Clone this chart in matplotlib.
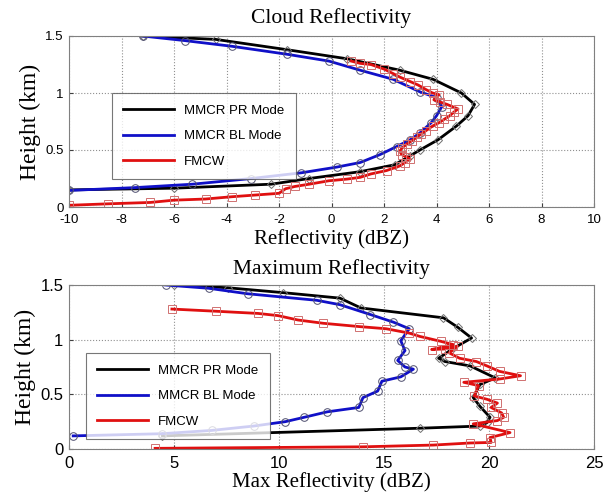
import numpy as np
import matplotlib
matplotlib.use("Agg")
import matplotlib.pyplot as plt

# --- Cloud Reflectivity (dBZ, km) ---
pr_top_x = [-7.2, -4.4, -1.7, 0.6, 2.6, 3.87, 4.95, 5.45, 5.2, 4.76, 4.06, 3.37, 3.0, 2.4, 1.1, -0.85, -2.3, -6.0, -10.0]
pr_top_y = [1.5, 1.47, 1.38, 1.30, 1.2, 1.12, 1.0, 0.9, 0.8, 0.71, 0.59, 0.5, 0.45, 0.37, 0.31, 0.25, 0.20, 0.165, 0.15]

bl_top_x = [-7.2, -5.6, -3.8, -1.7, -0.1, 1.09, 2.35, 3.37, 4.0, 4.2, 4.0, 3.8, 3.37, 3.0, 2.48, 1.85, 1.09, 0.2, -1.15, -3.05, -5.3, -7.5, -10.0]
bl_top_y = [1.5, 1.46, 1.41, 1.34, 1.28, 1.2, 1.12, 1.01, 0.96, 0.88, 0.8, 0.74, 0.65, 0.59, 0.53, 0.46, 0.39, 0.35, 0.30, 0.25, 0.2, 0.17, 0.145]

fm_top_x = [0.75, 1.09, 1.5, 2.0, 2.35, 2.6, 3.0, 3.3, 3.6, 3.85, 4.1, 3.9, 4.15, 4.4, 4.82, 4.65, 4.5, 4.3, 4.1, 3.85, 3.6, 3.4, 3.24, 3.05, 2.86, 2.7, 2.6, 2.67, 2.85, 3.0, 2.8, 2.6, 2.1, 1.5, 1.09, 0.6, -0.1, -0.85, -1.4, -1.75, -2.0, -2.9, -3.8, -4.8, -6.0, -6.9, -8.5, -10.0]
fm_top_y = [1.28, 1.26, 1.25, 1.21, 1.17, 1.14, 1.1, 1.07, 1.03, 1.0, 0.985, 0.94, 0.92, 0.9, 0.86, 0.83, 0.8, 0.77, 0.74, 0.71, 0.67, 0.64, 0.61, 0.58, 0.55, 0.52, 0.49, 0.46, 0.44, 0.42, 0.39, 0.36, 0.32, 0.29, 0.26, 0.245, 0.23, 0.20, 0.18, 0.16, 0.12, 0.105, 0.09, 0.07, 0.06, 0.04, 0.028, 0.015]

# --- Maximum Reflectivity (dBZ, km) ---
pr_max_x = [5.0, 7.55, 10.2, 12.9, 13.9, 17.83, 18.5, 19.17, 18.3, 17.6, 17.9, 19.1, 20.3, 19.57, 19.25, 19.57, 20.05, 19.9, 19.57, 16.7, 4.45]
pr_max_y = [1.5, 1.475, 1.43, 1.38, 1.29, 1.2, 1.115, 1.015, 0.92, 0.83, 0.80, 0.76, 0.65, 0.59, 0.47, 0.39, 0.29, 0.24, 0.21, 0.19, 0.12]

bl_max_x = [4.6, 6.65, 8.5, 11.8, 12.9, 14.35, 15.45, 16.2, 15.8, 16.0, 15.65, 16.0, 16.4, 15.8, 14.9, 14.7, 14.0, 13.8, 12.3, 11.2, 10.3, 8.8, 6.8, 4.45, 0.2]
bl_max_y = [1.5, 1.47, 1.42, 1.36, 1.32, 1.23, 1.16, 1.1, 0.99, 0.90, 0.81, 0.75, 0.73, 0.66, 0.62, 0.53, 0.47, 0.38, 0.34, 0.29, 0.25, 0.21, 0.17, 0.14, 0.12]

fm_max_x = [4.9, 7.0, 9.0, 9.95, 10.9, 12.1, 13.8, 15.1, 16.2, 16.7, 17.7, 18.3, 17.27, 17.9, 18.5, 18.1, 18.6, 19.4, 19.9, 20.5, 21.5, 20.5, 18.8, 19.5, 19.3, 19.9, 20.4, 20.1, 20.6, 20.7, 20.4, 19.25, 21.0, 20.05, 20.1, 19.1, 17.35, 14.0, 4.1]
fm_max_y = [1.28, 1.26, 1.24, 1.22, 1.18, 1.15, 1.12, 1.1, 1.06, 1.03, 0.985, 0.955, 0.91, 0.915, 0.94, 0.88, 0.83, 0.80, 0.76, 0.71, 0.67, 0.64, 0.61, 0.58, 0.485, 0.455, 0.42, 0.38, 0.33, 0.29, 0.26, 0.23, 0.15, 0.105, 0.06, 0.055, 0.036, 0.02, 0.006]

labels = ['MMCR PR Mode', 'MMCR BL Mode', 'FMCW']

serif = ['Liberation Serif', 'DejaVu Serif']
sans = ['Liberation Sans', 'DejaVu Sans']
plt.rcParams['font.family'] = sans
plt.rcParams['axes.unicode_minus'] = False

fig = plt.figure(figsize=(6.08, 4.95), dpi=100)
ax1 = fig.add_axes([69 / 608, 1 - 207 / 495, 525 / 608, 171 / 495])
ax2 = fig.add_axes([69 / 608, 1 - 449 / 495, 525 / 608, 164 / 495])


def draw(ax, series, xlim, xticks, tick_fs):
    styles = [
        dict(color='black', marker='D', ms=4.5, mec='#707070'),
        dict(color='#1010c8', marker='o', ms=5.5, mec='#505070'),
        dict(color='#e01010', marker='s', ms=5.5, mec='#d07070'),
    ]
    for (x, y), st, lab in zip(series, styles, labels):
        ax.plot(x, y, color=st['color'], lw=2, label=lab)
        ax.plot(x, y, ls='none', marker=st['marker'], ms=st['ms'],
                mfc='none', mec=st['mec'], mew=0.7)
    ax.set_xlim(*xlim)
    ax.set_ylim(0, 1.5)
    ax.set_xticks(xticks)
    ax.set_yticks([0, 0.5, 1, 1.5])
    ax.set_yticklabels(['0', '0.5', '1', '1.5'])
    ax.grid(True, ls=':', color='#909090', lw=0.8)
    ax.tick_params(direction='in', length=3, labelsize=tick_fs, colors='#404040',
                   labelcolor='black')
    ax.tick_params(axis='x', pad=5)
    ax.tick_params(axis='y', pad=4)
    for s in ax.spines.values():
        s.set_color('#808080')
        s.set_linewidth(0.8)


draw(ax1, [(pr_top_x, pr_top_y), (bl_top_x, bl_top_y), (fm_top_x, fm_top_y)],
     (-10, 10), np.arange(-10, 11, 2), 9.5)
draw(ax2, [(pr_max_x, pr_max_y), (bl_max_x, bl_max_y), (fm_max_x, fm_max_y)],
     (0, 25), np.arange(0, 26, 5), 12)

ax1.set_title('Cloud Reflectivity', family=serif, fontsize=15.5, pad=9)
ax1.set_xlabel('Reflectivity (dBZ)', family=serif, fontsize=15, labelpad=2)
ax1.set_ylabel('Height (km)', family=serif, fontsize=17, labelpad=3)
ax2.set_title('Maximum Reflectivity', family=serif, fontsize=15.5, pad=8)
ax2.set_xlabel('Max Reflectivity (dBZ)', family=serif, fontsize=15, labelpad=1)
ax2.set_ylabel('Height (km)', family=serif, fontsize=17, labelpad=3)

for ax, pos in [(ax1, (105, 86, 293, 172)), (ax2, (79, 346, 267, 432))]:
    x0, y0, x1, y1 = pos
    leg = ax.legend(loc='upper left', fontsize=9.5, frameon=True, fancybox=False,
                    handlelength=3.8, labelspacing=1.0, borderpad=0.9, handletextpad=0.8)
    leg.get_frame().set_edgecolor('#555555')
    leg.get_frame().set_linewidth(0.8)
    # legend box placed in figure pixel coords
    bb = matplotlib.transforms.Bbox.from_extents(x0 / 608, 1 - y1 / 495, x1 / 608, 1 - y0 / 495)
    leg.set_bbox_to_anchor(bb, transform=fig.transFigure)

fig.savefig('out.png', dpi=100)
